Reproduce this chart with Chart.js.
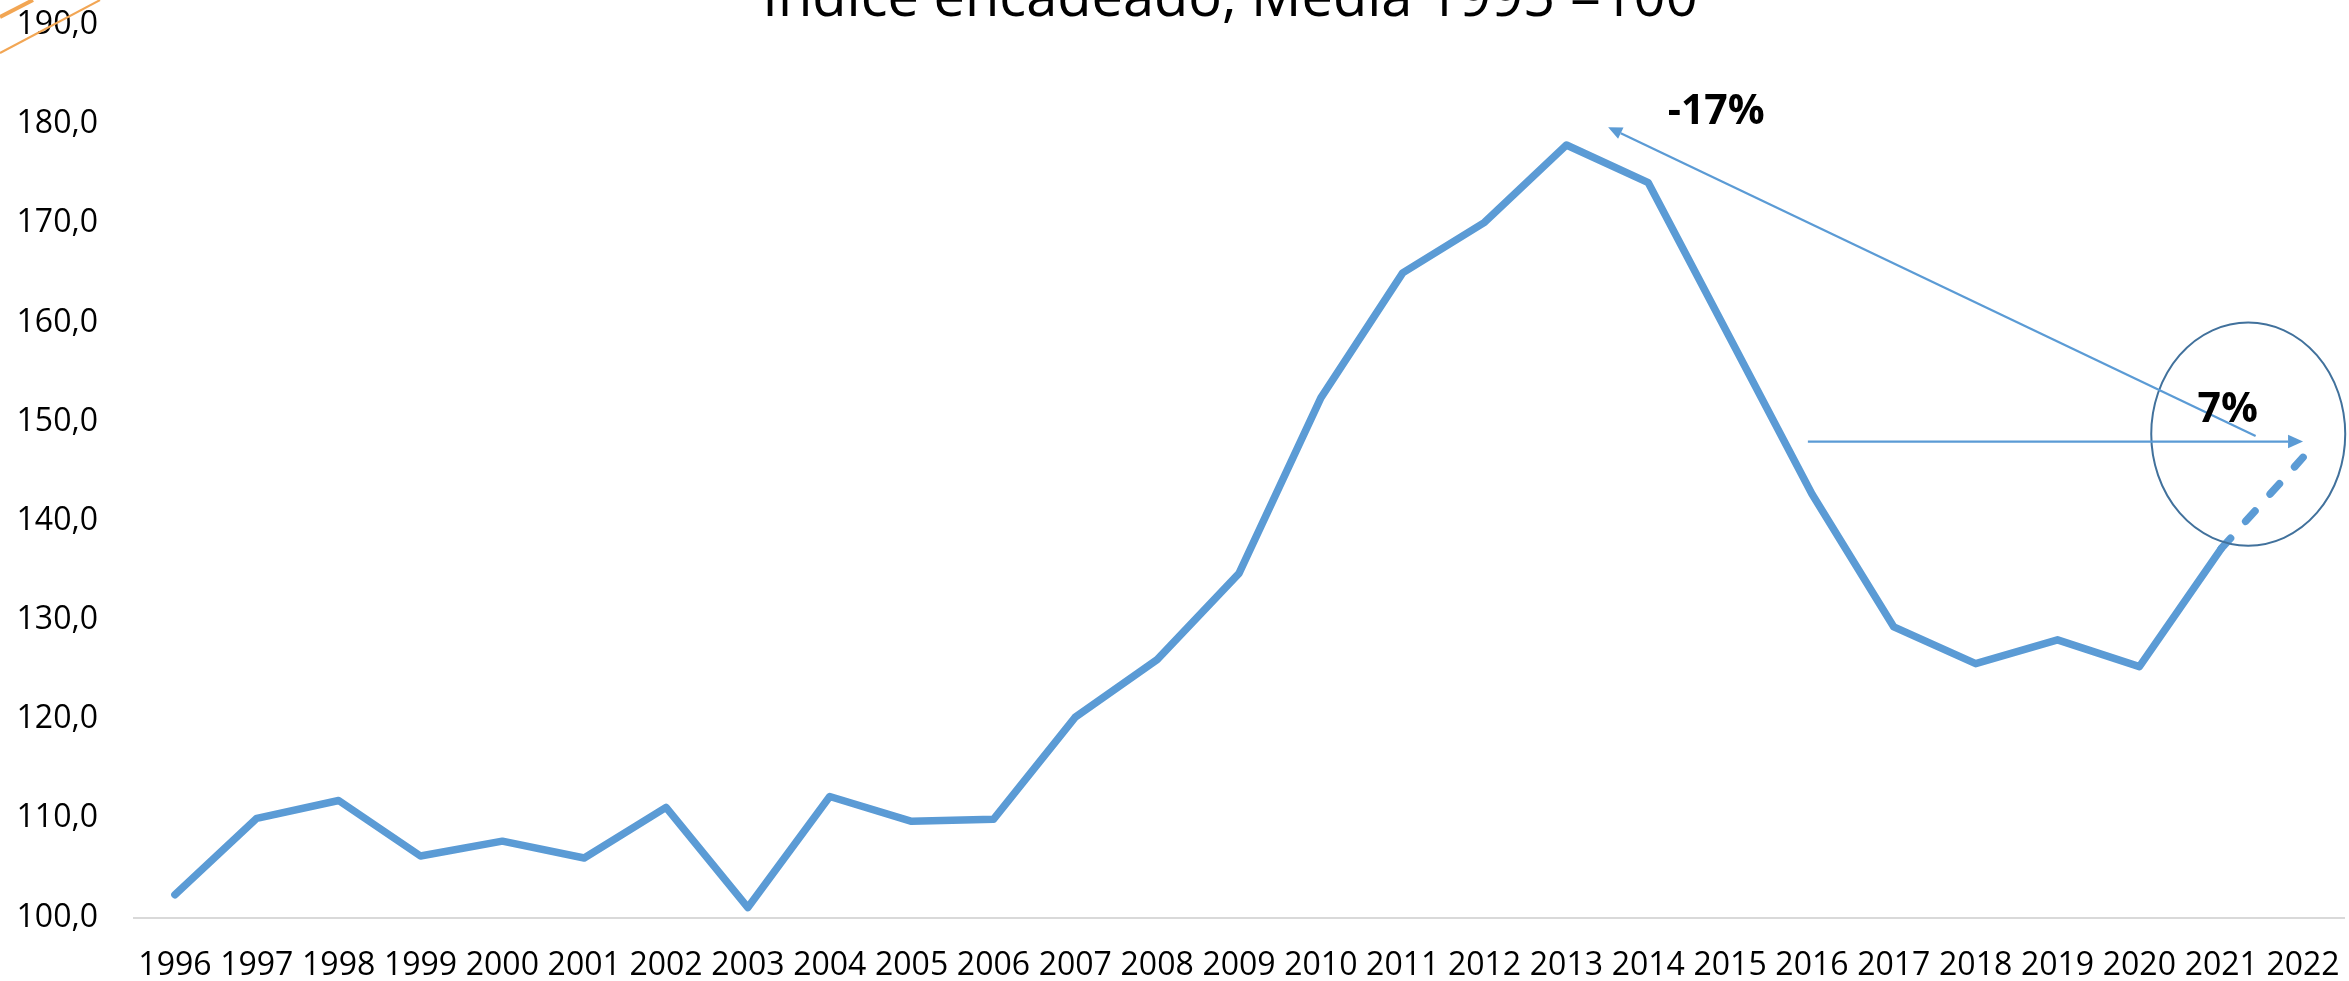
<!DOCTYPE html>
<html>
<head>
<meta charset="utf-8">
<script src="https://cdn.jsdelivr.net/npm/chart.js@4/dist/chart.umd.min.js"></script>
<style>
  html, body { margin: 0; padding: 0; background: #fff; }
  #wrap { width: 2349px; height: 981px; }
</style>
</head>
<body>
<div id="wrap"><canvas id="myChart" width="2349" height="981"></canvas></div>
<script>
// data
const years = ["1996", "1997", "1998", "1999", "2000", "2001", "2002", "2003", "2004",
  "2005", "2006", "2007", "2008", "2009", "2010", "2011", "2012", "2013", "2014",
  "2015", "2016", "2017", "2018", "2019", "2020", "2021", "2022"];
const indexValues = [102.3, 110.0, 111.8, 106.2, 107.7, 106.0, 111.1, 101.0, 112.2,
  109.7, 109.9, 120.2, 126.0, 134.7, 152.4, 165.0, 170.1, 177.9, 174.1,
  158.4, 142.7, 129.3, 125.6, 128.0, 125.3, 137.2, 146.4];
const yRange = [100, 190];
const yStep = 10;
const titleText = "Índice encadeado, Média 1995 =100";

// annotations, in category index / value units
const arrows = [
  { from: [25.42, 148.55], to: [17.51, 179.7], head: 14, width: 2.25 },
  { from: [19.95, 148.0], to: [26.0, 148.0], head: 15, width: 2.25 },
];
const rings = [{ cx: 25.33, cy: 148.75, rx: 1.185, ry: 11.25 }];
const notes = [
  { text: "-17%", x: 18.83, y: 179.98 },
  { text: "7%", x: 25.08, y: 149.97 },
];

const FONT = "'Open Sans', 'Noto Sans', sans-serif";
const BLUE = "#5B9BD5";

const overlayPlugin = {
  id: "overlay",
  afterDatasetsDraw(chart) {
    const ctx = chart.ctx;
    const xs = chart.scales.x, ys = chart.scales.y;
    const px = (i) => xs.getPixelForValue(i);
    const py = (v) => ys.getPixelForValue(v);
    ctx.save();

    // ellipse
    rings.forEach((r) => {
      const cx = px(r.cx), cy = py(r.cy);
      const rx = Math.abs(px(r.cx + r.rx) - cx), ry = Math.abs(py(r.cy + r.ry) - cy);
      ctx.beginPath();
      ctx.ellipse(cx, cy, rx, ry, 0, 0, Math.PI * 2);
      ctx.strokeStyle = "#41719C";
      ctx.lineWidth = 2;
      ctx.stroke();
    });

    // arrows
    arrows.forEach((a) => {
      const x1 = px(a.from[0]), y1 = py(a.from[1]);
      const x2 = px(a.to[0]), y2 = py(a.to[1]);
      const ang = Math.atan2(y2 - y1, x2 - x1);
      const bx = x2 - a.head * Math.cos(ang), by = y2 - a.head * Math.sin(ang);
      ctx.strokeStyle = BLUE;
      ctx.fillStyle = BLUE;
      ctx.lineWidth = a.width;
      ctx.beginPath();
      ctx.moveTo(x1, y1);
      ctx.lineTo(bx, by);
      ctx.stroke();
      const hw = a.head * 0.45;
      ctx.beginPath();
      ctx.moveTo(x2, y2);
      ctx.lineTo(bx + hw * Math.sin(ang), by - hw * Math.cos(ang));
      ctx.lineTo(bx - hw * Math.sin(ang), by + hw * Math.cos(ang));
      ctx.closePath();
      ctx.fill();
    });

    // bold labels
    ctx.fillStyle = "#000";
    ctx.font = "bold 41px " + FONT;
    ctx.textAlign = "center";
    ctx.textBaseline = "alphabetic";
    notes.forEach((n) => ctx.fillText(n.text, px(n.x), py(n.y)));

    // title, cut off at the top edge like the source
    ctx.font = "56px " + FONT;
    ctx.fillText(titleText, 1230, 16);

    // bits of an orange shape poking in at the top-left corner
    ctx.strokeStyle = "#F2A654";
    ctx.lineWidth = 4;
    ctx.beginPath(); ctx.moveTo(0, 17); ctx.lineTo(33, 0); ctx.stroke();
    ctx.lineWidth = 2;
    ctx.beginPath(); ctx.moveTo(0, 53); ctx.lineTo(100, 0); ctx.stroke();

    ctx.restore();
  },
};

const lastIdx = years.length - 1;

new Chart(document.getElementById("myChart").getContext("2d"), {
  type: "line",
  data: {
    labels: years,
    datasets: [{
      data: indexValues,
      borderColor: BLUE,
      borderWidth: 7.5,
      pointRadius: 0,
      tension: 0,
      borderCapStyle: "round",
      borderJoinStyle: "round",
      segment: {
        // last year is an estimate: dashed
        borderDash: (c) => (c.p1DataIndex === lastIdx ? [14, 22.6] : undefined),
      },
    }],
  },
  options: {
    responsive: false,
    animation: false,
    devicePixelRatio: 1,
    layout: { padding: { top: 25, right: 5, bottom: 0, left: 0 } },
    plugins: { legend: { display: false }, tooltip: { enabled: false }, title: { display: false } },
    scales: {
      x: {
        offset: true,
        grid: { display: false, drawTicks: false },
        border: { display: true, color: "#D9D9D9", width: 2 },
        ticks: {
          color: "#000",
          font: { family: FONT, size: 32 },
          padding: 29,
          maxRotation: 0,
          autoSkip: false,
        },
        afterFit: (s) => { s.height = 63.5; s.paddingLeft = 0; s.paddingRight = 0; },
      },
      y: {
        min: yRange[0],
        max: yRange[1],
        grid: { display: false, drawTicks: false },
        border: { display: false },
        ticks: {
          stepSize: yStep,
          color: "#000",
          font: { family: FONT, size: 32 },
          padding: 36,
          callback: (v) => v.toFixed(1).replace(".", ","),
        },
        afterFit: (s) => { s.width = 134; s.paddingTop = 0; s.paddingBottom = 0; },
      },
    },
  },
  plugins: [overlayPlugin],
});
</script>
</body>
</html>
